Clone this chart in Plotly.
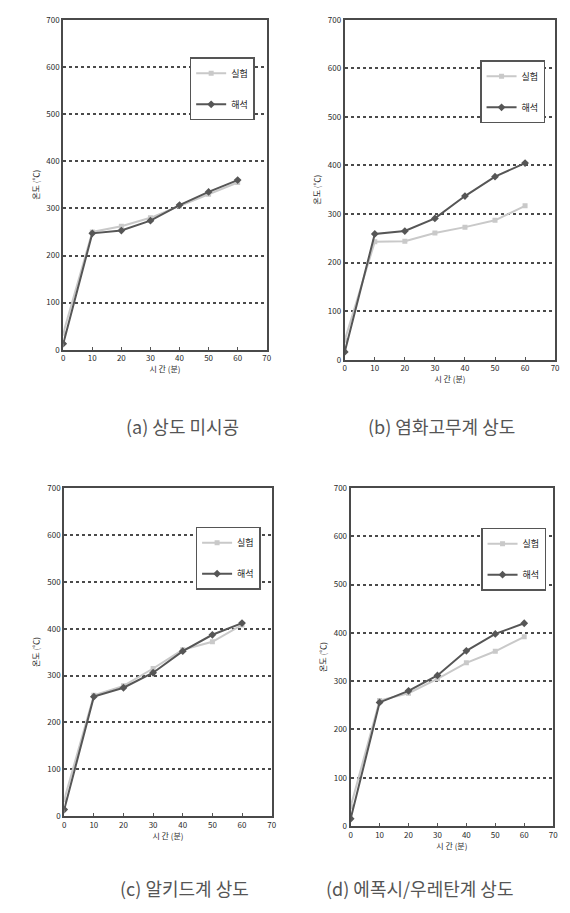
import plotly.graph_objects as go

# Elapsed time (min) and measured temperatures (℃) for each coating condition
time_min = [0, 10, 20, 30, 40, 50, 60]

a_test = [35, 250, 262, 280, 305, 330, 355]
a_model = [13, 247, 253, 274, 307, 335, 360]

b_test = [40, 243, 244, 261, 273, 287, 317]
b_model = [16, 259, 265, 291, 337, 377, 405]

c_test = [35, 258, 278, 315, 355, 372, 408]
c_model = [14, 255, 274, 306, 352, 387, 412]

d_test = [40, 260, 275, 305, 338, 362, 392]
d_model = [15, 256, 280, 312, 363, 398, 420]

series_names = ["실험", "해석"]
captions = ["(a) 상도 미시공", "(b) 염화고무계 상도", "(c) 알키드계 상도", "(d) 에폭시/우레탄계 상도"]
x_ticks = [0, 10, 20, 30, 40, 50, 60, 70]
y_ticks = [0, 100, 200, 300, 400, 500, 600, 700]

W, H = 570, 913

def px(x):
    return x / W

def py(y):
    return 1 - y / H

# plot-area boxes in pixels: left, right, top, bottom
panels = [
    dict(box=(62, 268, 14, 348), data=(a_test, a_model), legend=(190, 52), cap=(183, 425)),
    dict(box=(347, 560, 14, 358), data=(b_test, b_model), legend=(484, 55), cap=(445, 425)),
    dict(box=(63, 273, 488, 820), data=(c_test, c_model), legend=(196, 527), cap=(185, 893)),
    dict(box=(353, 558, 488, 830), data=(d_test, d_model), legend=(485, 528), cap=(423, 893)),
]

fig = go.Figure()
light = "#c9c9c9"
dark = "#565656"
axis_font = dict(family="Noto Sans CJK KR", size=8, color="#2a2a2a")

for i, p in enumerate(panels):
    k = "" if i == 0 else str(i + 1)
    xa, ya = "x" + k, "y" + k
    leg = "legend" + k
    test, model = p["data"]
    fig.add_trace(go.Scatter(
        x=time_min, y=test, name=series_names[0], mode="lines+markers",
        line=dict(color=light, width=2), marker=dict(symbol="square", size=5, color=light),
        xaxis=xa, yaxis=ya, legend=leg, legendgroup="t" + k))
    fig.add_trace(go.Scatter(
        x=time_min, y=model, name=series_names[1], mode="lines+markers",
        line=dict(color=dark, width=2), marker=dict(symbol="diamond", size=6, color=dark),
        xaxis=xa, yaxis=ya, legend=leg, legendgroup="m" + k))

    l, r, t, b = p["box"]
    fig.layout["xaxis" + k] = dict(
        domain=[px(l), px(r)], anchor=ya, range=[0, 70], tickvals=x_ticks,
        ticks="inside", ticklen=3, tickcolor="#555", showgrid=False, zeroline=False,
        showline=True, mirror=True, linecolor="#4a4a4a", linewidth=2,
        tickfont=axis_font, title=dict(text="시 간 (분)", font=axis_font, standoff=4))
    fig.layout["yaxis" + k] = dict(
        domain=[py(b), py(t)], anchor=xa, range=[0, 700], tickvals=y_ticks,
        showgrid=True, gridcolor="#4a4a4a", griddash="dot", gridwidth=1.5, zeroline=False,
        showline=True, mirror=True, linecolor="#4a4a4a", linewidth=2,
        tickfont=axis_font, ticks="", title=dict(text="온도 (℃)", font=axis_font, standoff=6))
    lx, ly = p["legend"]
    fig.layout[leg] = dict(
        x=px(lx), y=py(ly), xanchor="left", yanchor="top",
        bgcolor="white", bordercolor="#555555", borderwidth=1.5,
        font=dict(family="Noto Sans CJK KR", size=9, color="#222222"),
        itemwidth=30, tracegroupgap=12)
    cx, cy = p["cap"]
    fig.add_annotation(
        x=px(cx), y=py(cy), xref="paper", yref="paper", xanchor="center", yanchor="middle",
        showarrow=False, text=captions[i],
        font=dict(family="Noto Sans CJK KR", size=18, color="#555555"))

fig.update_layout(
    width=W, height=H, margin=dict(l=0, r=0, t=0, b=0),
    paper_bgcolor="white", plot_bgcolor="white")

fig.write_html("out.html")
